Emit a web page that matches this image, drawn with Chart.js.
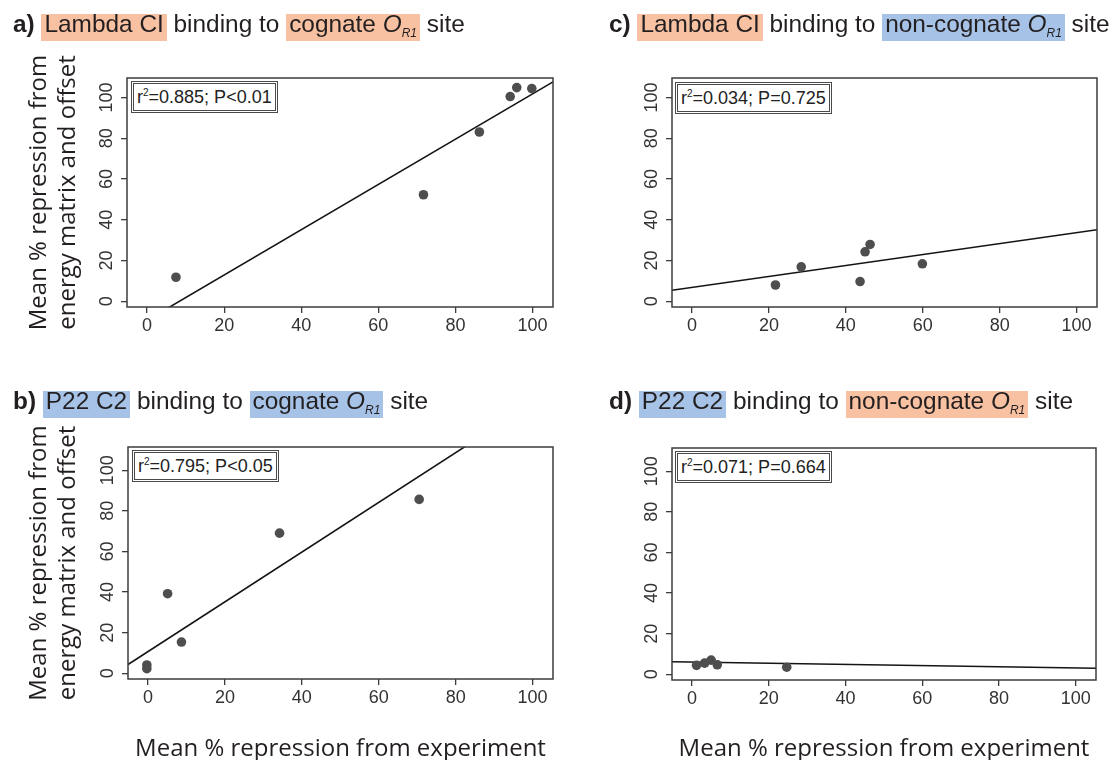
<!DOCTYPE html>
<html>
<head>
<meta charset="utf-8">
<script src="https://cdn.jsdelivr.net/npm/chart.js@4.4.1/dist/chart.umd.min.js"></script>
<style>
    body { margin: 0; background: #fff; }
    #page { position: relative; width: 1120px; height: 760px; overflow: hidden; font-family: 'Liberation Sans', Arial, sans-serif; color: #231f20; }
    canvas { position: absolute; }
    .title { position: absolute; font-size: 24.4px; white-space: nowrap; line-height: 28px; }
    .title b { font-weight: bold; }
    .hl { display: inline-block; line-height: 19px; padding: 0 3px 8px; }
    .orange { background: #f8c1a2; }
    .blue { background: #a6c3e7; }
    .title sub { font-size: 12px; font-style: italic; vertical-align: -5px; line-height: 0; }
    .stat { position: absolute; height: 26px; line-height: 26px; padding: 0 3px; border: 3px double #4a4a4a; font-size: 18px; color: #222; background: #fff; white-space: nowrap; }
    .stat sup { font-size: 10px; vertical-align: 7px; line-height: 0; }
</style>
</head>
<body>
<div id="page">
    <canvas id="chart-a" width="560" height="380" style="left:0;top:0"></canvas>
    <canvas id="chart-c" width="560" height="380" style="left:560px;top:0"></canvas>
    <canvas id="chart-b" width="560" height="380" style="left:0;top:380px"></canvas>
    <canvas id="chart-d" width="560" height="380" style="left:560px;top:380px"></canvas>

    <div class="title" style="left:13px;top:10px"><b>a)</b> <span class="hl orange">Lambda CI</span> binding to <span class="hl orange">cognate <i>O</i><sub>R1</sub></span> site</div>
    <div class="title" style="left:609px;top:10px"><b>c)</b> <span class="hl orange">Lambda CI</span> binding to <span class="hl blue">non-cognate <i>O</i><sub>R1</sub></span> site</div>
    <div class="title" style="left:13px;top:387px"><b>b)</b> <span class="hl blue">P22 C2</span> binding to <span class="hl blue">cognate <i>O</i><sub>R1</sub></span> site</div>
    <div class="title" style="left:609px;top:387px"><b>d)</b> <span class="hl blue">P22 C2</span> binding to <span class="hl orange">non-cognate <i>O</i><sub>R1</sub></span> site</div>

    <div class="stat" id="stat-a" style="left:131px;top:81px"></div>
    <div class="stat" id="stat-c" style="left:675px;top:82px"></div>
    <div class="stat" id="stat-b" style="left:132px;top:450px"></div>
    <div class="stat" id="stat-d" style="left:675px;top:451px"></div>
</div>
<script>
// Axis ticks (shared by all four panels)
const xTicks = [0, 20, 40, 60, 80, 100];
const yTicks = [0, 20, 40, 60, 80, 100];

// a) Lambda CI on cognate OR1
const expA = [7.5, 71.7, 86.2, 94.2, 95.9, 99.8];
const predA = [11.8, 52.3, 83.1, 100.5, 104.9, 104.4];
const fitAx = [-5.2, 105.3];
const fitAy = [-15.1, 107.7];

// b) P22 C2 on cognate OR1
const expB = [-0.3, -0.3, 5.1, 8.7, 34.2, 70.5];
const predB = [4.1, 2.3, 39.2, 15.4, 69.0, 85.6];
const fitBx = [-5.2, 105.3];
const fitBy = [4.3, 139.6];

// c) Lambda CI on non-cognate OR1
const expC = [21.7, 28.4, 43.7, 45.0, 46.3, 59.9];
const predC = [8.0, 16.9, 9.7, 24.3, 27.9, 18.4];
const fitCx = [-5.2, 105.3];
const fitCy = [5.4, 35.1];

// d) P22 C2 on non-cognate OR1
const expD = [1.2, 3.3, 5.0, 6.6, 24.7];
const predD = [4.4, 5.5, 7.0, 4.7, 3.5];
const fitDx = [-5.2, 105.3];
const fitDy = [6.2, 3.0];

// Stats text
const statText = {
    a: ['0.885', 'P<0.01'],
    b: ['0.795', 'P<0.05'],
    c: ['0.034', 'P=0.725'],
    d: ['0.071', 'P=0.664']
};

const yTitle = ['Mean % repression from', 'energy matrix and offset'];
const xTitle = 'Mean % repression from experiment';

const frameColor = '#3d3d3d';
const tickFont = { family: "'Liberation Sans', Arial, sans-serif", size: 18 };
const titleFont = { family: "'Open Sans', sans-serif", size: 24, lineHeight: 1.2 };

// Draws the full box around the plot area
const framePlugin = {
    id: 'frame',
    afterDatasetsDraw(chart) {
        const { ctx, chartArea: { left, top, right, bottom } } = chart;
        ctx.save();
        ctx.strokeStyle = frameColor;
        ctx.lineWidth = 1.5;
        ctx.strokeRect(left, top, right - left, bottom - top);
        ctx.restore();
    }
};

const toPoints = (xs, ys) => xs.map((x, i) => ({ x: x, y: ys[i] }));

function makePanel(id, pts, fit, box, opts) {
    const setTicks = scale => { scale.ticks = (scale.axis === 'x' ? xTicks : yTicks).map(v => ({ value: v })); };
    new Chart(document.getElementById(id), {
        type: 'scatter',
        data: {
            datasets: [
                {
                    type: 'line',
                    data: fit,
                    borderColor: '#141414',
                    borderWidth: 1.6,
                    pointRadius: 0,
                    fill: false,
                    order: 1
                },
                {
                    data: pts,
                    backgroundColor: '#4e4e4e',
                    borderWidth: 0,
                    pointRadius: 4.8,
                    order: 0
                }
            ]
        },
        options: {
            responsive: false,
            animation: false,
            events: [],
            layout: {
                padding: { left: 0, top: box.top, right: 560 - box.right, bottom: 0 }
            },
            plugins: {
                legend: { display: false },
                tooltip: { enabled: false }
            },
            scales: {
                x: {
                    type: 'linear',
                    min: -5.2,
                    max: 105.3,
                    afterBuildTicks: setTicks,
                    afterFit: s => { s.height = 380 - box.bottom; },
                    border: { display: false },
                    grid: { drawOnChartArea: false, drawTicks: true, tickLength: 6, color: frameColor, lineWidth: 1.3 },
                    ticks: { font: tickFont, color: '#333', padding: 2, maxRotation: 0, autoSkip: false },
                    title: {
                        display: !!opts.xTitle,
                        text: xTitle,
                        font: titleFont,
                        color: '#231f20',
                        padding: { top: 0, bottom: -4 }
                    }
                },
                y: {
                    type: 'linear',
                    min: -2.8,
                    max: opts.yMax,
                    afterBuildTicks: setTicks,
                    afterFit: s => { s.width = box.left; },
                    border: { display: false },
                    grid: { drawOnChartArea: false, drawTicks: true, tickLength: 6, color: frameColor, lineWidth: 1.3 },
                    ticks: { font: tickFont, color: '#333', padding: -1, minRotation: 90, maxRotation: 90, crossAlign: 'center', autoSkip: false },
                    title: {
                        display: !!opts.yTitle,
                        text: yTitle,
                        font: titleFont,
                        color: '#231f20',
                        padding: { top: 25, bottom: 0 }
                    }
                }
            }
        },
        plugins: [framePlugin]
    });
}

makePanel('chart-a', toPoints(expA, predA), toPoints(fitAx, fitAy),
    { left: 127, top: 78, right: 553, bottom: 307 }, { yMax: 109.6, yTitle: true, xTitle: false });
makePanel('chart-c', toPoints(expC, predC), toPoints(fitCx, fitCy),
    { left: 112, top: 78, right: 537, bottom: 307 }, { yMax: 109.6, yTitle: false, xTitle: false });
makePanel('chart-b', toPoints(expB, predB), toPoints(fitBx, fitBy),
    { left: 128, top: 67, right: 553, bottom: 299 }, { yMax: 111.4, yTitle: true, xTitle: true });
makePanel('chart-d', toPoints(expD, predD), toPoints(fitDx, fitDy),
    { left: 112, top: 68, right: 536, bottom: 300 }, { yMax: 111.4, yTitle: false, xTitle: true });

// Stat boxes
Object.entries(statText).forEach(([key, [r2, p]]) => {
    document.getElementById('stat-' + key).innerHTML = 'r<sup>2</sup>=' + r2 + '; ' + p.replace('<', '&lt;');
});
</script>
</body>
</html>
